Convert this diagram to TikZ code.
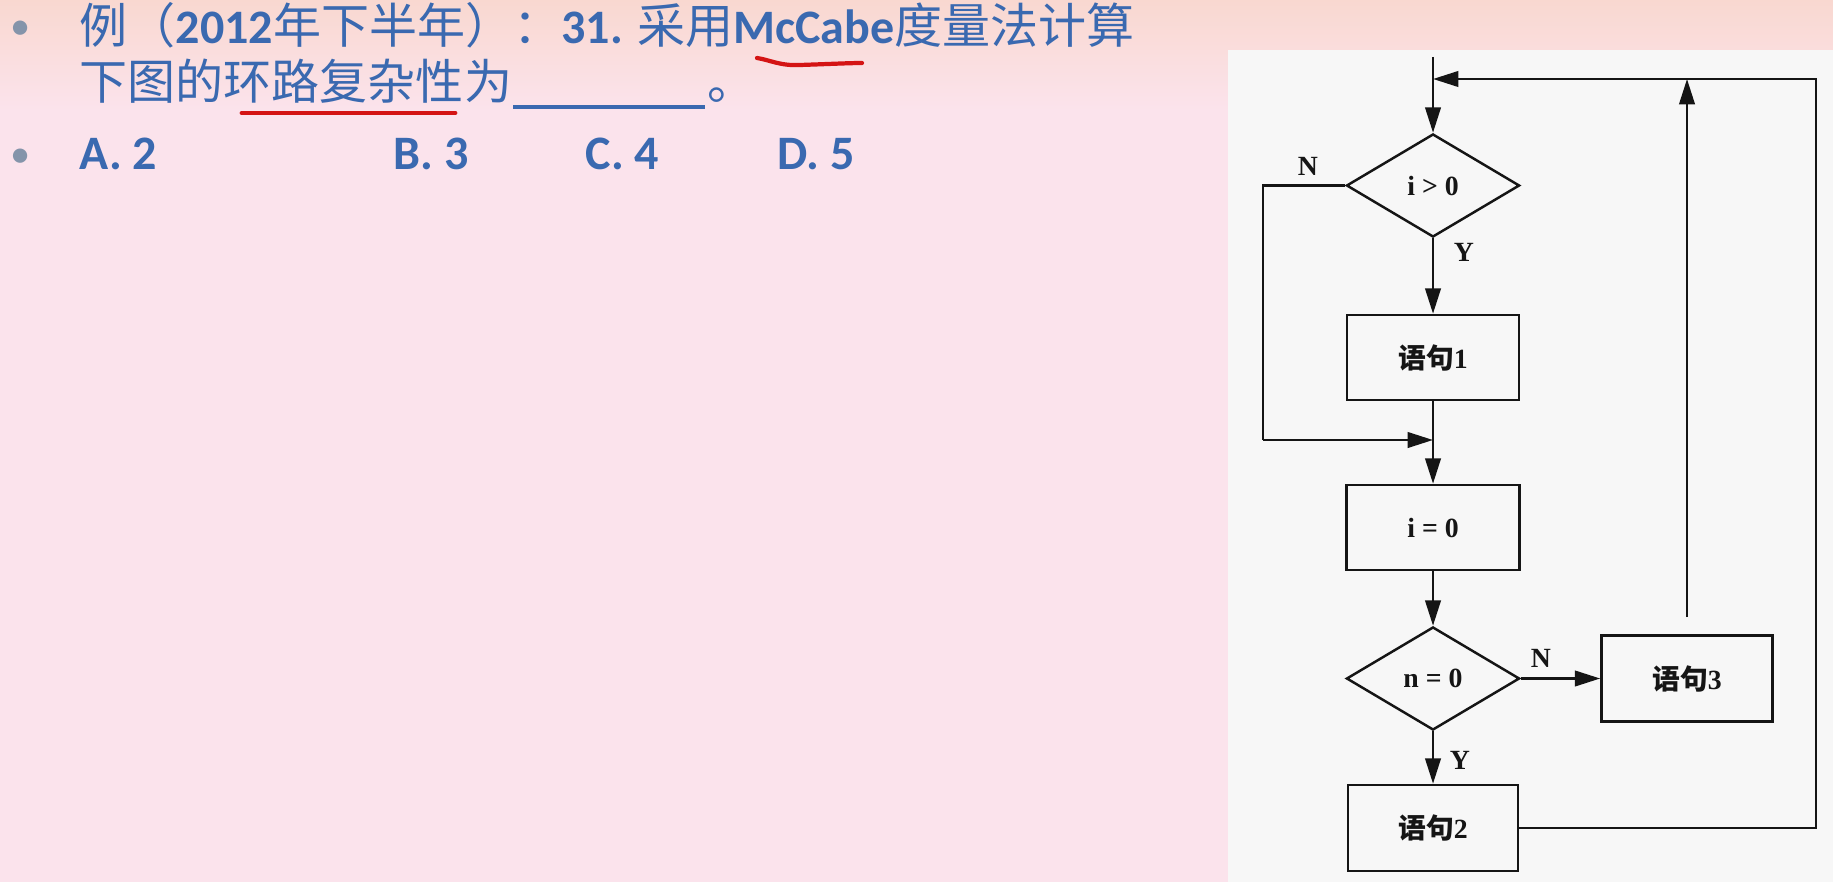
\documentclass[tikz,border=0pt]{standalone}
\usepackage{fontspec}
\setmainfont{Liberation Serif}
\newfontfamily\cjk{Noto Sans CJK SC}
\newfontfamily\lat{Carlito}
\usetikzlibrary{shapes.geometric,arrows.meta}
\definecolor{bg}{HTML}{FBE3EC}
\definecolor{peach}{HTML}{F9D8D0}
\definecolor{txt}{HTML}{3A69B0}
\definecolor{redu}{HTML}{D41414}
\definecolor{panelc}{HTML}{F7F7F7}
\definecolor{ink}{HTML}{151515}
\definecolor{bul}{HTML}{8494AA}
\tikzset{
  slidetext/.style={anchor=base west, inner sep=0pt, text=txt, font=\fontsize{13.66pt}{16pt}\selectfont},
  bulletnode/.style={anchor=base west, inner sep=0pt, text=bul, font=\lat\fontsize{11.5pt}{14pt}\selectfont},
  flowbox/.style={draw=ink, line width=0.7pt, rectangle, inner sep=0pt, font=\bfseries\fontsize{7.9pt}{9pt}\selectfont, text=ink},
  flowdia/.style={draw=ink, line width=0.7pt, diamond, inner sep=0pt, minimum width=1.73cm, minimum height=1.03cm, font=\bfseries\fontsize{7.9pt}{9pt}\selectfont, text=ink},
  flowline/.style={draw=ink, line width=0.7pt},
  flowarrow/.style={flowline, -{Triangle[length=7.2pt,width=4.4pt]}},
  yn/.style={inner sep=0pt, font=\bfseries\fontsize{7.9pt}{9pt}\selectfont, text=ink},
}
\newcommand{\cj}[1]{{\cjk #1}}
\newcommand{\lb}[1]{{\lat\bfseries #1}}
\begin{document}
\begin{tikzpicture}[x=0.01cm, y=-0.01cm]
\useasboundingbox (0,0) rectangle (1833,882);
% slide background
\fill[bg] (0,0) rectangle (1833,882);
\shade[top color=peach, bottom color=bg] (0,0) rectangle (1833,110);
% figure panel
\fill[panelc] (1228,50) rectangle (1833,882);

% question text
\node[bulletnode] (bul1) at (10,40) {•};
\node[slidetext] (line1) at (79,44) {\cj{例（}\lb{2012}\cj{年下半年）：}\lb{31. }\cj{采用}\lb{McCabe}\cj{度量法计算}};
\node[slidetext] (line2) at (79,100) {\cj{下图的环路复杂性为}};
\node[slidetext] (period) at (707,100) {\cj{。}};
\draw[txt, line width=1.2pt] (513,107) -- (705,107);
\draw[redu, line width=1.4pt, line cap=round] (242,113) -- (455,113);
\draw[redu, line width=1.2pt, line cap=round] (757,58) .. controls (770,60) and (780,66) .. (800,65) .. controls (830,64) and (850,63) .. (862,63);

\node[bulletnode] (bul2) at (10,168) {•};
\node[slidetext] (optA) at (79,170) {\lb{A. 2}};
\node[slidetext] (optB) at (393,170) {\lb{B. 3}};
\node[slidetext] (optC) at (585,170) {\lb{C. 4}};
\node[slidetext] (optD) at (777,170) {\lb{D. 5}};

% flowchart
\node[flowdia] (d1) at (1433,185.5) {i > 0};
\node[flowbox, minimum width=1.72cm, minimum height=0.85cm] (b1) at (1433,357.5) {\cj{\bfseries 语句}1};
\node[flowbox, minimum width=1.73cm, minimum height=0.85cm] (b0) at (1433,527.5) {i = 0};
\node[flowdia] (d2) at (1433,678.5) {n = 0};
\node[flowbox, minimum width=1.71cm, minimum height=0.86cm] (b3) at (1687,678.5) {\cj{\bfseries 语句}3};
\node[flowbox, minimum width=1.70cm, minimum height=0.86cm] (b2) at (1433,828) {\cj{\bfseries 语句}2};

\coordinate (entry) at (1433,57);
\coordinate (join) at (1433,79);
\coordinate (tr) at (1816,79);
\coordinate (br) at (1816,828);
\coordinate (nl) at (1263,185.5);
\coordinate (nb) at (1263,440);
\coordinate (merge) at (1433,440);

\draw[flowarrow] (entry) -- (d1.north);
\draw[flowarrow] (d1.south) -- (b1.north);
\node[yn] (y1) at (1464,252) {Y};
\draw[flowline] (d1.west) -- (nl) -- (nb);
\draw[flowarrow] (nb) -- (merge);
\node[yn] (n1) at (1308,166) {N};
\draw[flowarrow] (b1.south) -- (b0.north);
\draw[flowarrow] (b0.south) -- (d2.north);
\draw[flowarrow] (d2.east) -- (b3.west);
\node[yn] (n2) at (1541,658) {N};
\draw[flowarrow] (d2.south) -- (b2.north);
\node[yn] (y2) at (1460,760) {Y};
\draw[flowarrow] (b2.east) -- (br) -- (tr) -- (join);
\draw[flowarrow, shorten <=0.17cm] (b3.north) -- (b3.north |- join);
\end{tikzpicture}
\end{document}
